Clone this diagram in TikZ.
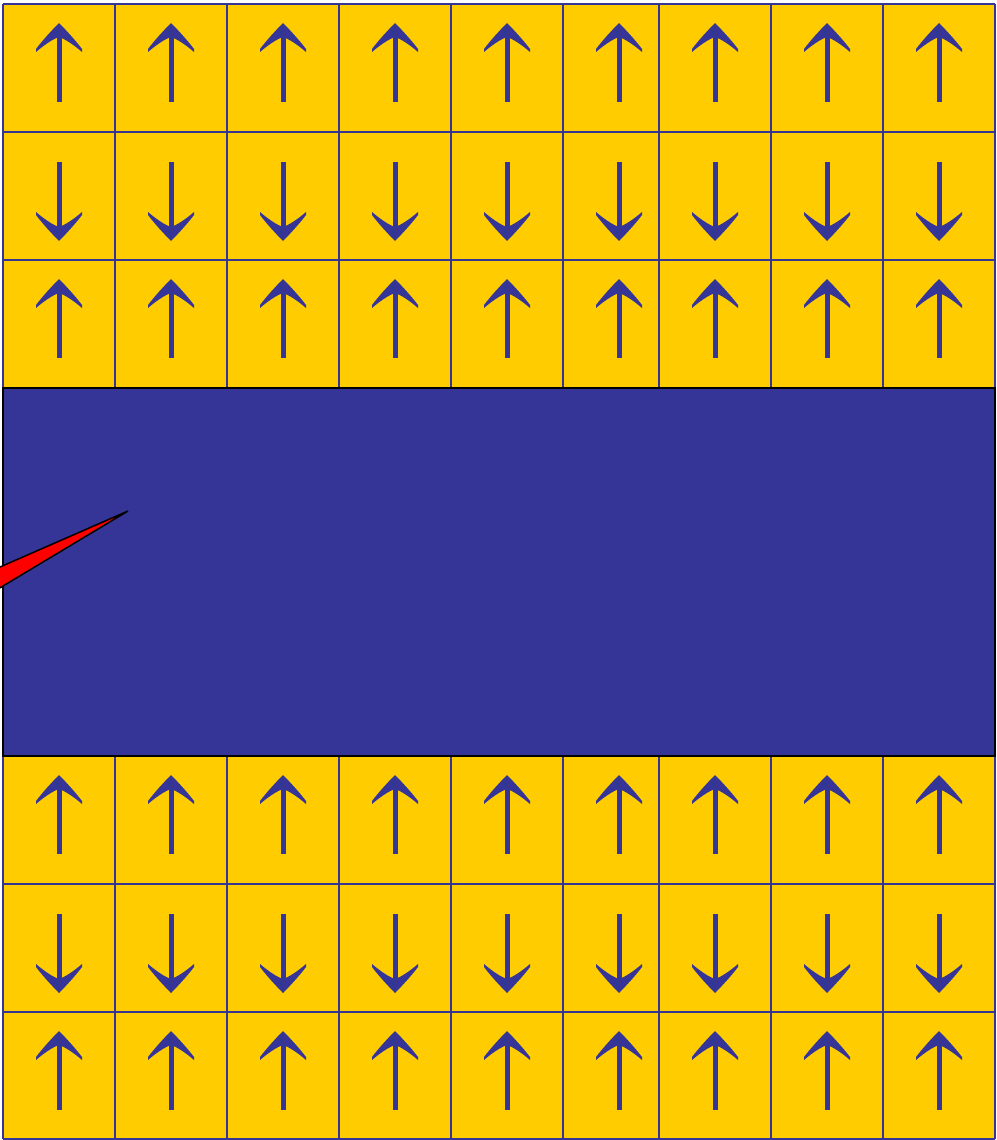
\documentclass[tikz,border=0pt]{standalone}
\begin{document}
\begin{tikzpicture}[x=1pt,y=-1pt,
  gridline/.style={draw=arrowblue,line width=1.6pt},
  uparrow/.pic={
    \fill[arrowblue] (0,0) .. controls (-7,7) and (-17,18) .. (-23,26) -- (-23,29)
      .. controls (-15,22) and (-6,16) .. (0,14) .. controls (6,16) and (15,22) .. (23,29)
      -- (23,26) .. controls (17,18) and (7,7) .. (0,0) -- cycle;
    \draw[arrowblue,line width=5pt] (0,10) -- (0,79);
  }]
\definecolor{arrowblue}{RGB}{53,53,152}
\definecolor{gold}{RGB}{255,204,0}
\useasboundingbox (0,0) rectangle (996,1140);
\clip (0,0) rectangle (996,1140);
% yellow bands
\fill[gold] (3,4) rectangle (995,388);
\fill[gold] (3,756) rectangle (995,1139);
% grid lines
\foreach \yy in {4,132,260} \draw[gridline] (3,\yy) -- (995,\yy);
\foreach \yy in {884,1012,1139} \draw[gridline] (3,\yy) -- (995,\yy);
\foreach \xx in {3,115,227,339,451,563,659,771,883,995} {
  \draw[gridline] (\xx,4) -- (\xx,388);
  \draw[gridline] (\xx,756) -- (\xx,1139);
}
% arrows
\foreach \xx in {59,171,283,395,507,619,715,827,939} {
  \foreach \yy in {4,260,756,1012} \pic at (\xx,\yy+19) {uparrow};
  \foreach \yy in {132,884} \pic[yscale=-1] at (\xx,\yy+109) {uparrow};
}
% blue block
\filldraw[fill=arrowblue,draw=black,line width=2pt] (3,388) rectangle (995,756);
% red wedge
\filldraw[fill=red,draw=black,line width=1.5pt,line join=miter] (128,511) -- (-20,575.75) -- (-20,599.8) -- cycle;
\end{tikzpicture}
\end{document}
